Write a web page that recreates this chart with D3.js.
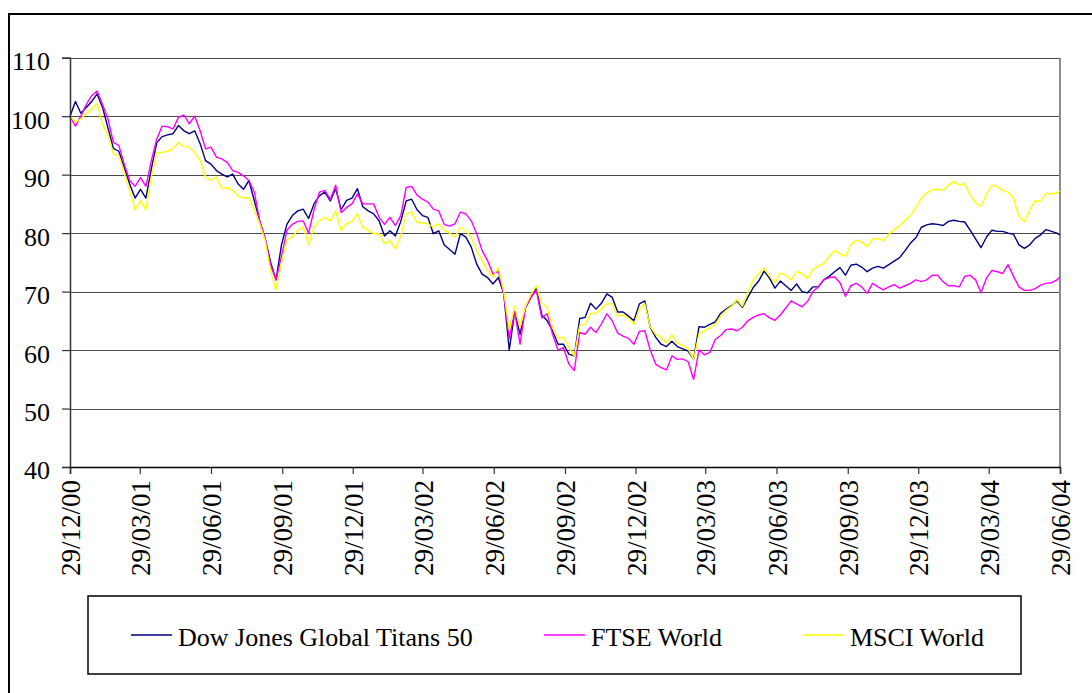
<!DOCTYPE html>
<html lang="en">
<head>
  <meta charset="UTF-8" />
  <title>Dow Jones Global Titans 50 vs FTSE World vs MSCI World</title>
  <script src="https://d3js.org/d3.v7.min.js"></script>
  <style>
    body {
      margin: 0;
      padding: 0;
      background: #fff;
    }
    svg text {
      font-family: "Liberation Serif", "Times New Roman", serif;
      fill: #000;
    }
  </style>
</head>
<body>
  <svg id="chart" width="1092" height="693"></svg>

  <script>
    // weekly closes (Fridays) from 29/12/00, last point 29/06/04, rebased to 100
    const startDate = "29/12/00";
    const endDate = "29/06/04";

    const djTitans = [
      100, 102.5, 100.5, 101.5, 102.5, 103.8, 101.5, 98, 94.5, 94,
      91.3, 88.4, 86, 87.5, 86, 91, 95.5, 96.5, 96.8, 97,
      98.4, 97.5, 97, 97.5, 95.3, 92.4, 91.8, 90.7, 90.1, 89.6,
      90.1, 88.4, 87.5, 89, 85.5, 82, 79, 75, 72, 78,
      81.5, 83, 83.8, 84.1, 82.5, 85, 86.4, 87, 85.5, 87.6,
      84, 85.6, 86, 87.6, 84.5, 83.8, 83.3, 82.1, 79.5, 80.4,
      79.5, 82, 85.5, 85.8, 84, 83, 82.7, 79.9, 80.4, 78,
      77.2, 76.4, 79.9, 79.3, 77.6, 74.7, 73, 72.4, 71.3, 72.4,
      69.6, 60, 66.5, 62.7, 67.3, 69, 70.5, 66, 65, 63.3,
      61, 61, 59.3, 59, 65.4, 65.6, 68, 67, 68, 69.6,
      69, 66.5, 66.5, 65.8, 65, 67.9, 68.4, 63.9, 62.2, 61,
      60.6, 61.5, 60.6, 60.2, 59.8, 58.4, 64, 63.9, 64.4, 64.8,
      66.3, 67, 67.6, 68.4, 67.3, 69, 70.7, 71.8, 73.5, 72.3,
      70.6, 71.8, 71, 70.2, 71.3, 70, 69.8, 70.8, 70.8, 72,
      72.6, 73.4, 74.1, 72.8, 74.5, 74.7, 74.2, 73.4, 74, 74.3,
      74, 74.6, 75.2, 75.8, 77, 78.3, 79.2, 81, 81.4, 81.6,
      81.5, 81.3, 82, 82.2, 82, 81.9, 80.5, 79, 77.5, 79.3,
      80.5, 80.3, 80.3, 80, 79.8, 78, 77.4, 78, 79.1, 79.7,
      80.6, 80.3, 80, 79.7
    ];

    const ftseWorld = [
      100, 98.3, 100, 102, 103.5, 104.3, 102, 99.5, 95.5, 95,
      91.8, 89, 88, 89.5, 88, 92.4, 96.1, 98.3, 98.2, 97.8,
      99.8, 100.2, 98.7, 100, 97.5, 94.4, 94.7, 93, 92.7, 92.1,
      90.7, 90.4, 89.8, 89, 87, 82, 79, 74.5, 72, 76,
      80.5, 81.5, 82, 82.1, 80, 84, 87, 87.3, 85.8, 88.2,
      83.5, 84.4, 85, 86.7, 85, 85, 85, 82.7, 81.5, 82.7,
      81.3, 83, 87.8, 88, 86.5, 85.8, 85.3, 84.1, 83.8, 81.5,
      81.2, 81.6, 83.6, 83.3, 82.1, 79.9, 77, 75.3, 73, 73.5,
      69.6, 62, 66.5, 61, 67.3, 69, 70.2, 65.5, 66.2, 62.7,
      60, 60.4, 57.6, 56.5, 63, 62.7, 63.9, 63, 64.5, 66.2,
      65, 62.9, 62.4, 62, 61, 63.2, 63.3, 60, 57.6, 57,
      56.6, 59, 58.4, 58.5, 58, 55, 60, 59.2, 59.6, 61.8,
      62.5, 63.5, 63.6, 63.3, 63.9, 65, 65.6, 66, 66.2, 65.5,
      65.1, 66, 67.2, 68.4, 67.9, 67.4, 68.3, 70, 70.8, 72,
      72.4, 72.5, 71.5, 69.2, 71, 71.4, 70.8, 69.7, 71.4, 70.8,
      70.3, 70.8, 71.2, 70.6, 71, 71.4, 72, 71.7, 72, 72.8,
      72.8, 71.7, 71, 71, 70.8, 72.6, 72.8, 72, 69.8, 72.3,
      73.6, 73.4, 73.1, 74.6, 72.6, 70.8, 70.2, 70.2, 70.5, 71.1,
      71.4, 71.5, 72, 72.5
    ];

    const msciWorld = [
      100, 99, 99.5, 100.5, 101.2, 102.2, 98.5, 96.8, 93.5, 93.3,
      90.2, 87.3, 84, 85.5, 84, 89.5, 93.8, 93.8, 94, 94.4,
      95.5, 94.8, 94.7, 93.8, 92.4, 89.6, 89, 89.6, 87.6, 87.8,
      87.3, 86.4, 86, 86.1, 84, 81.5, 78.7, 73.5, 70.3, 75,
      78.8, 79.3, 80.5, 81, 78, 81, 82.1, 82.7, 82.1, 83.8,
      80.5, 81.6, 82, 83.3, 81, 80.5, 79.9, 79.9, 78.2, 78.7,
      77.3, 79.5, 83.3, 83.6, 81.8, 81.8, 81.6, 81, 81.6, 80.6,
      80, 79.3, 81, 80.4, 79.3, 77, 75.3, 73.6, 72.5, 74.1,
      70, 63.5, 67.5, 63.9, 67.5, 69.5, 71, 68, 67.3, 63.9,
      62, 62.2, 60.4, 59, 64.2, 64.4, 66.2, 66.3, 67, 67.9,
      67.9, 65.8, 66, 65.5, 64.4, 67, 67.9, 64, 62.7, 62.2,
      61.2, 62.6, 61.2, 60.8, 60.2, 58.4, 62.8, 63.3, 63.8, 64.4,
      65.8, 66.8, 67.5, 68.6, 67.5, 69.8, 72, 73, 74, 72.7,
      71.5, 73.2, 72.8, 72, 73.4, 73.1, 72.2, 73.8, 74.3, 74.8,
      76, 77, 76.5, 76, 78, 78.8, 78.5, 77.7, 78.9, 79.1,
      78.7, 79.8, 80.6, 81.2, 82.2, 83, 84.4, 86, 86.9, 87.4,
      87.5, 87.3, 88.2, 88.8, 88.2, 88.5, 86.5, 85.2, 84.6, 86.6,
      88.2, 88, 87.3, 87, 86, 82.9, 82, 84, 85.5, 85.5,
      86.8, 86.7, 86.9, 87.2
    ];

    const seriesNames = ["Dow Jones Global Titans 50", "FTSE World", "MSCI World"];
    const seriesColors = ["#000080", "#ff00ff", "#ffff00"];

    const tickLabels = [
      "29/12/00", "29/03/01", "29/06/01", "29/09/01", "29/12/01",
      "29/03/02", "29/06/02", "29/09/02", "29/12/02", "29/03/03",
      "29/06/03", "29/09/03", "29/12/03", "29/03/04", "29/06/04"
    ];
    const yTicks = [40, 50, 60, 70, 80, 90, 100, 110];

    const parseDate = d3.timeParse("%d/%m/%y");
    const t0 = parseDate(startDate);
    const t1 = parseDate(endDate);
    const n = djTitans.length;
    const dates = d3.range(n).map(i => i === n - 1 ? t1 : d3.timeDay.offset(t0, 7 * i));

    const series = [djTitans, ftseWorld, msciWorld].map((vals, k) => ({
      name: seriesNames[k],
      color: seriesColors[k],
      values: vals.map((v, i) => ({ date: dates[i], value: v }))
    }));

    // plot area
    const plotLeft = 70, plotRight = 1060, plotTop = 57.7, plotBottom = 467;

    const svg = d3.select("#chart");

    svg.append("rect")
      .attr("width", 1092).attr("height", 693)
      .attr("fill", "#fff");

    // outer chart frame (runs off the right and bottom)
    svg.append("rect")
      .attr("x", 9).attr("y", 14)
      .attr("width", 1100).attr("height", 700)
      .attr("fill", "none")
      .attr("stroke", "#000")
      .attr("stroke-width", 2);

    const x = d3.scaleTime().domain([t0, t1]).range([plotLeft, plotRight]);
    const y = d3.scaleLinear().domain([40, 110]).range([plotBottom, plotTop]);

    // gridlines
    svg.append("g")
      .selectAll("line")
      .data(yTicks.filter(v => v > 40))
      .join("line")
      .attr("x1", plotLeft).attr("x2", plotRight)
      .attr("y1", d => Math.round(y(d)) + 0.5)
      .attr("y2", d => Math.round(y(d)) + 0.5)
      .attr("stroke", "#4a4a4a")
      .attr("stroke-width", 1.2);

    // right edge of plot area
    svg.append("line")
      .attr("x1", plotRight).attr("x2", plotRight)
      .attr("y1", plotTop).attr("y2", plotBottom)
      .attr("stroke", "#8c8c8c")
      .attr("stroke-width", 2);

    // series lines
    const line = d3.line()
      .x(d => x(d.date))
      .y(d => y(d.value));

    svg.append("g")
      .selectAll("path")
      .data(series)
      .join("path")
      .attr("fill", "none")
      .attr("stroke", d => d.color)
      .attr("stroke-width", 1.4)
      .attr("stroke-linejoin", "round")
      .attr("d", d => line(d.values));

    // y axis
    const yAxis = svg.append("g")
      .attr("transform", `translate(${plotLeft},0)`)
      .call(d3.axisLeft(y).tickValues(yTicks).tickSize(8).tickPadding(12).tickFormat(d3.format("d")));
    yAxis.select(".domain").attr("stroke", "#333").attr("stroke-width", 1.5);
    yAxis.selectAll(".tick line").attr("stroke", "#333").attr("stroke-width", 1.2);
    yAxis.selectAll(".tick text")
      .attr("font-size", 26)
      .attr("dy", "0.46em")
      .style("font-family", "'Liberation Serif', 'Times New Roman', serif");

    // x axis
    const xAxis = svg.append("g")
      .attr("transform", `translate(0,${plotBottom})`)
      .call(d3.axisBottom(x)
        .tickValues(tickLabels.map(parseDate))
        .tickSize(7)
        .tickFormat(d3.timeFormat("%d/%m/%y")));
    xAxis.select(".domain").attr("stroke", "#000").attr("stroke-width", 1.5);
    xAxis.selectAll(".tick line").attr("stroke", "#333").attr("stroke-width", 1.2);
    xAxis.selectAll(".tick text")
      .attr("font-size", 27)
      .attr("text-anchor", "end")
      .attr("transform", "translate(0,13) rotate(-90)")
      .attr("x", 0).attr("y", 0)
      .attr("dy", "0.36em")
      .style("font-family", "'Liberation Serif', 'Times New Roman', serif");

    // legend
    const legendX = [131, 544, 803];
    svg.append("rect")
      .attr("x", 88).attr("y", 596)
      .attr("width", 933).attr("height", 78)
      .attr("fill", "#fff")
      .attr("stroke", "#000")
      .attr("stroke-width", 1.5);

    const legend = svg.append("g")
      .selectAll("g")
      .data(series)
      .join("g")
      .attr("transform", (d, i) => `translate(${legendX[i]},635)`);

    legend.append("line")
      .attr("x1", 0).attr("x2", 41)
      .attr("stroke", d => d.color)
      .attr("stroke-width", 1.6);

    legend.append("text")
      .attr("x", 47)
      .attr("y", 11)
      .attr("font-size", 26)
      .text(d => d.name);
  </script>
</body>
</html>
